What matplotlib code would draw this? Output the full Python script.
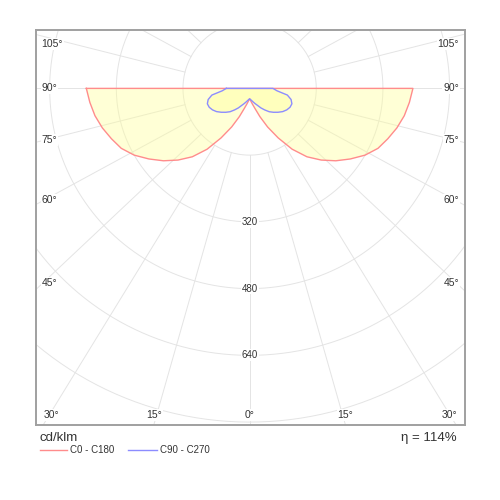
import numpy as np
import matplotlib
matplotlib.use("Agg")
import matplotlib.pyplot as plt
from matplotlib.lines import Line2D

plt.rcParams['font.family'] = ['Liberation Sans', 'DejaVu Sans']

# luminous intensity (cd/klm) over gamma, symmetric halves
gamma = [0, 5, 10, 15, 20, 25, 30, 35, 40, 45, 50, 55, 60, 65, 70, 75, 80, 85, 90]
c0_c180 = [25, 30, 38, 50, 72, 102, 137, 178, 214, 243, 270, 295, 320, 340, 353, 366, 377, 385, 392]
c90_c270 = [25, 27, 30, 34, 39, 45, 54, 63, 73, 81, 89, 97, 103, 107, 108, 103, 92, 66, 56]

ring_values = [160, 320, 480, 640, 800, 960]
ring_labels = [320, 480, 640]
ray_angles = list(range(0, 181, 15))
side_labels = [105, 90, 75, 60, 45]
bottom_labels = [-30, -15, 0, 15, 30]
unit_text = "cd/klm"
eta_text = "η = 114%"
series_names = ["C0 - C180", "C90 - C270"]
series_colors = ["#ff8c8c", "#8c8cff"]

# plot box in data units (cd/klm)
xmin, xmax, ymin, ymax = -514, 517, -807, 140
px = 1 / 0.417   # data units per pixel
k = 0.94         # rays in the reference are a bit flatter than true angles

fig = plt.figure(figsize=(5, 5), dpi=100)
ax = fig.add_axes([0.071, 0.15, 0.859, 0.79])
ax.set_xlim(xmin, xmax)
ax.set_ylim(ymin, ymax)
ax.set_xticks([])
ax.set_yticks([])
for s in ax.spines.values():
    s.set_color("#a0a0a0")
    s.set_linewidth(1.4)

grid_col = "#e4e4e4"
t = np.linspace(0, 2 * np.pi, 400)
for r in ring_values:
    ax.plot(r * np.cos(t), r * np.sin(t), color=grid_col, lw=0.7, zorder=1)

for a in ray_angles:
    for sgn in (-1, 1):
        ar = np.radians(a)
        dx, dy = sgn * np.sin(ar), -k * np.cos(ar)
        n = np.hypot(dx, dy)
        dx, dy = dx / n, dy / n
        ax.plot([160 * dx, 1200 * dx], [160 * dy, 1200 * dy], color=grid_col, lw=0.7, zorder=1)

# curves
g = np.radians(gamma)
for vals, col in zip([c0_c180, c90_c270], series_colors):
    v = np.array(vals, dtype=float)
    xs = np.concatenate([-(v * np.sin(g))[::-1], (v * np.sin(g))[1:]])
    ys = np.concatenate([-(v * np.cos(g))[::-1], -(v * np.cos(g))[1:]])
    ax.fill(xs, ys, facecolor="#ffff99", alpha=0.4, zorder=2)
    ax.plot(np.append(xs, xs[0]), np.append(ys, ys[0]), color=col, lw=1.0, zorder=3)

lab = dict(color="#333333", zorder=4,
           bbox=dict(facecolor="white", edgecolor="none", pad=0.6))

for r in ring_labels:
    ax.text(0, -r, str(r), ha="center", va="center", fontsize=7, **lab)

for a in side_labels:
    ar = np.radians(a)
    hy = -k * np.cos(ar) * (-xmin) / np.sin(ar) + max(90 - a, 0) * 0.15 * px
    hy = min(hy, ymax - 14 * px)
    ax.text(xmin + 6 * px, hy, f"{a}°", ha="left", va="center", fontsize=7.5, **lab)
    ax.text(xmax - 6 * px, hy, f"{a}°", ha="right", va="center", fontsize=7.5, **lab)

for a in bottom_labels:
    ar = np.radians(abs(a))
    hx = np.sign(a) * (-ymin) * np.tan(ar) / k
    hx = max(min(hx, xmax - 16 * px), xmin + 16 * px)
    ax.text(hx, ymin + 10 * px, f"{abs(a)}°", ha="center", va="center", fontsize=7.5, **lab)

fig.text(40 / 500, 1 - 438 / 500, unit_text, fontsize=9.5, color="#333333", va="center")
fig.text(457 / 500, 1 - 438 / 500, eta_text, fontsize=9.5, color="#333333", va="center", ha="right")

leg_y = 1 - 450 / 500
for (x0, x1), name, col in zip([(40, 67), (128, 157)], series_names, series_colors):
    fig.add_artist(Line2D([x0 / 500, x1 / 500], [leg_y, leg_y], color=col, lw=1.0,
                          transform=fig.transFigure))
    fig.text((x1 + 3) / 500, leg_y, name, fontsize=7, color="#333333", va="center")

fig.savefig("out.png", dpi=100)
